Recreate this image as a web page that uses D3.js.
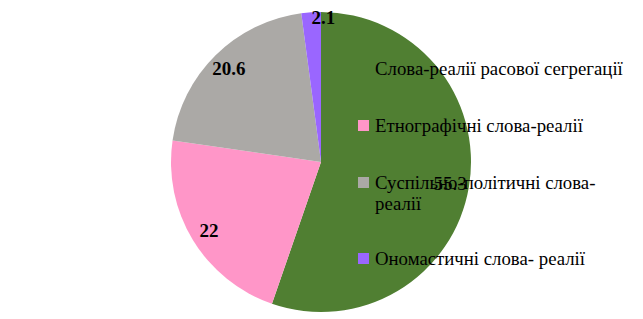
<!DOCTYPE html>
<html><head><meta charset="utf-8">
<script src="https://cdn.jsdelivr.net/npm/d3@7"></script>
<style>body{margin:0;background:#fff}svg{display:block}</style>
</head><body>
<svg id="c" width="643" height="319"></svg>
<script>
const categories = ["Слова-реалії расової сегрегації", "Етнографічні слова-реалії", "Суспільно-політичні слова-реалії", "Ономастичні слова- реалії"];
const legendLines = [["Слова-реалії расової сегрегації"], ["Етнографічні слова-реалії"], ["Суспільно-політичні слова-", "реалії"], ["Ономастичні слова- реалії"]];
const values = [55.3, 22, 20.6, 2.1];
const colors = ["#507f32", "#ff96c8", "#aba9a6", "#9a66ff"];

const svg = d3.select("#c");
const cx = 321, cy = 162, R = 150;
const g = svg.append("g").attr("transform", `translate(${cx},${cy})`);
const pie = d3.pie().sort(null).value(d => d)(values);
const arc = d3.arc().innerRadius(0).outerRadius(R);
g.selectAll("path").data(pie).join("path").attr("d", arc).attr("fill", (d, i) => colors[i]);

// legend
const lg = svg.append("g");
const rowY = [69, 126, 183, 259];
legendLines.forEach((lines, i) => {
  lg.append("rect").attr("x", 358).attr("y", rowY[i] - 6).attr("width", 11).attr("height", 11).attr("fill", colors[i]);
  lines.forEach((t, j) => {
    lg.append("text").attr("x", 375).attr("y", rowY[i] + 6 + j * 21)
      .attr("font-family", "Liberation Serif, Times New Roman, serif").attr("font-size", 18.8).attr("fill", "#000").text(t);
  });
});

// labels
const lab = d3.arc().innerRadius(131).outerRadius(131);
const labOut = d3.arc().innerRadius(145).outerRadius(145);
pie.forEach((d, i) => {
  const small = d.value < 5;
  const [x, y] = (small ? labOut : lab).centroid(d);
  svg.append("text").attr("x", cx + x).attr("y", cy + y + 6.5)
    .attr("text-anchor", small ? "start" : "middle")
    .attr("font-family", "Liberation Serif, Times New Roman, serif").attr("font-size", 19)
    .attr("font-weight", i === 0 ? "normal" : "bold").attr("fill", "#000").text(String(d.value));
});
</script>
</body></html>
